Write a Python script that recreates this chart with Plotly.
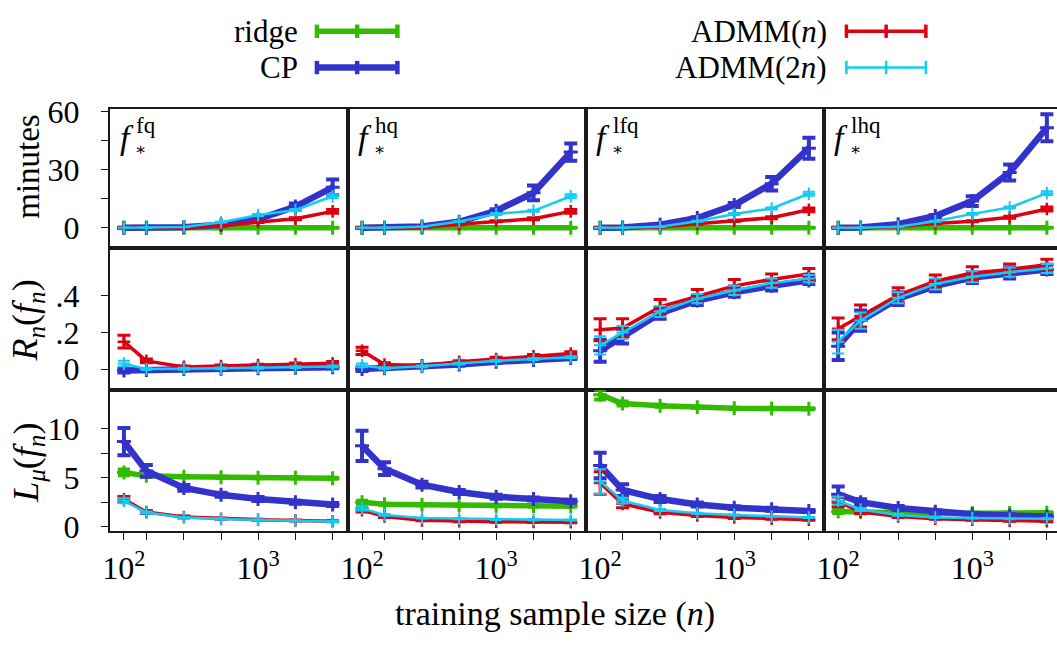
import plotly.graph_objects as go
from plotly.subplots import make_subplots

# ---------------- data ----------------
n_values = [100, 147, 280, 530, 1000, 1900, 3600]
panel_labels = ["fq", "hq", "lfq", "lhq"]

# row 1: minutes (one list per panel)
ridge_min = [[0, 0, 0, 0, 0, 0, 0], [0, 0, 0, 0, 0, 0, 0],
             [0, 0, 0, 0, 0, 0, 0], [0, 0, 0, 0, 0, 0, 0]]
ridge_min_err = [[0, 0, 0, 0, 0, 0, 0], [0, 0, 0, 0, 0, 0, 0],
                 [0, 0, 0, 0, 0, 0, 0], [0, 0, 0, 0, 0, 0, 0]]
cp_min = [[0, 0, 0.2, 1.5, 4.3, 10.9, 20.8],
          [0, 0, 0.6, 3.0, 8.7, 18.0, 39.0],
          [0, 0.1, 1.5, 5.0, 11.7, 22.7, 41.0],
          [0, 0.1, 1.8, 6.0, 13.7, 28.5, 51.6]]
cp_min_err = [[0, 0, 0, 0.3, 0.5, 1.5, 4.0],
              [0, 0, 0, 0.3, 0.8, 3.8, 4.5],
              [0, 0, 0, 0.3, 1.0, 3.5, 5.4],
              [0, 0, 0, 0.5, 2.5, 4.1, 7.0]]
admm_min = [[0, 0, 0.1, 1.0, 3.0, 4.6, 8.4],
            [0, 0, 0.2, 1.7, 3.3, 4.6, 8.4],
            [0, 0, 0.3, 2.0, 3.5, 5.1, 9.2],
            [0, 0, 0.4, 2.2, 3.3, 5.4, 9.6]]
admm_min_err = [[0, 0, 0, 0.2, 0.3, 0.5, 1.0],
                [0, 0, 0, 0.2, 0.3, 0.5, 1.0],
                [0, 0, 0, 0.2, 0.3, 0.5, 1.0],
                [0, 0, 0, 0.2, 0.3, 0.5, 1.0]]
admm2_min = [[0, 0, 0.3, 2.8, 6.5, 9.1, 16.2],
             [0, 0, 0.5, 3.2, 7.0, 8.7, 16.2],
             [0, 0, 0.5, 3.3, 7.0, 9.9, 17.5],
             [0, 0, 0.5, 3.3, 7.1, 10.4, 17.8]]
admm2_min_err = [[0, 0, 0, 0.2, 0.5, 0.5, 1.0],
                 [0, 0, 0, 0.2, 0.5, 0.5, 1.0],
                 [0, 0, 0, 0.2, 0.5, 0.5, 1.0],
                 [0, 0, 0, 0.2, 0.5, 0.5, 1.0]]

# row 2: R_n(f_n)  (ridge not shown)
cp_R = [[-0.008, -0.005, 0.0, 0.002, 0.005, 0.008, 0.01],
        [0.0, 0.005, 0.015, 0.025, 0.04, 0.05, 0.06],
        [0.10, 0.18, 0.305, 0.375, 0.42, 0.455, 0.485],
        [0.125, 0.265, 0.385, 0.455, 0.50, 0.525, 0.545]]
cp_R_err = [[0.01, 0.005, 0.005, 0.005, 0.005, 0.005, 0.005],
            [0.01, 0.005, 0.005, 0.005, 0.005, 0.005, 0.005],
            [0.06, 0.04, 0.03, 0.025, 0.025, 0.025, 0.02],
            [0.075, 0.055, 0.035, 0.03, 0.03, 0.03, 0.025]]
admm_R = [[0.15, 0.045, 0.012, 0.017, 0.022, 0.028, 0.032],
          [0.10, 0.025, 0.02, 0.04, 0.055, 0.07, 0.085],
          [0.215, 0.225, 0.34, 0.40, 0.455, 0.49, 0.52],
          [0.22, 0.29, 0.405, 0.48, 0.525, 0.545, 0.57]]
admm_R_err = [[0.035, 0.01, 0.005, 0.005, 0.005, 0.005, 0.01],
              [0.02, 0.01, 0.005, 0.005, 0.01, 0.01, 0.01],
              [0.06, 0.05, 0.04, 0.035, 0.035, 0.03, 0.03],
              [0.06, 0.06, 0.04, 0.035, 0.035, 0.03, 0.03]]
admm2_R = [[0.03, 0.0, 0.002, 0.004, 0.007, 0.011, 0.014],
           [0.02, 0.005, 0.015, 0.03, 0.045, 0.055, 0.065],
           [0.13, 0.20, 0.315, 0.385, 0.43, 0.47, 0.495],
           [0.15, 0.265, 0.39, 0.465, 0.505, 0.53, 0.55]]
admm2_R_err = [[0.015, 0.005, 0.005, 0.005, 0.005, 0.005, 0.005],
               [0.01, 0.005, 0.005, 0.005, 0.005, 0.005, 0.005],
               [0.05, 0.035, 0.03, 0.025, 0.025, 0.025, 0.02],
               [0.065, 0.045, 0.03, 0.03, 0.03, 0.025, 0.025]]

# row 3: L_mu(f_n)
ridge_L = [[5.55, 5.2, 5.1, 5.05, 5.0, 5.0, 4.95],
           [2.5, 2.3, 2.25, 2.2, 2.15, 2.12, 2.1],
           [13.5, 12.6, 12.37, 12.2, 12.1, 12.08, 12.05],
           [1.55, 1.5, 1.4, 1.35, 1.38, 1.4, 1.42]]
ridge_L_err = [[0.3, 0.1, 0.05, 0.05, 0.05, 0.05, 0.05],
               [0.15, 0.05, 0.05, 0.05, 0.05, 0.05, 0.05],
               [0.5, 0.2, 0.1, 0.05, 0.05, 0.05, 0.05],
               [0.15, 0.05, 0.05, 0.05, 0.05, 0.05, 0.05]]
cp_L = [[8.7, 5.7, 3.97, 3.26, 2.83, 2.51, 2.28],
        [8.27, 5.93, 4.3, 3.55, 3.07, 2.83, 2.61],
        [6.25, 3.75, 2.83, 2.28, 1.95, 1.79, 1.6],
        [3.32, 2.51, 1.92, 1.53, 1.27, 1.14, 1.05]]
cp_L_err = [[1.4, 0.6, 0.3, 0.2, 0.2, 0.15, 0.15],
            [1.55, 0.65, 0.3, 0.2, 0.2, 0.15, 0.15],
            [1.3, 0.6, 0.3, 0.2, 0.15, 0.15, 0.1],
            [0.8, 0.3, 0.2, 0.15, 0.1, 0.1, 0.1]]
admm_L = [[2.8, 1.5, 1.0, 0.82, 0.72, 0.63, 0.56],
          [1.7, 1.05, 0.65, 0.56, 0.52, 0.49, 0.46],
          [4.46, 2.34, 1.47, 1.14, 0.95, 0.82, 0.72],
          [2.55, 1.53, 1.05, 0.82, 0.72, 0.62, 0.56]]
admm_L_err = [[0.3, 0.15, 0.1, 0.05, 0.05, 0.05, 0.05],
              [0.2, 0.1, 0.05, 0.05, 0.05, 0.05, 0.05],
              [1.15, 0.4, 0.15, 0.1, 0.1, 0.05, 0.05],
              [0.5, 0.2, 0.1, 0.05, 0.05, 0.05, 0.05]]
admm2_L = [[2.65, 1.45, 0.95, 0.78, 0.68, 0.6, 0.53],
           [1.86, 1.21, 0.88, 0.82, 0.75, 0.72, 0.68],
           [4.63, 2.67, 1.7, 1.37, 1.21, 1.05, 0.95],
           [2.67, 1.76, 1.21, 0.95, 0.88, 0.82, 0.82]]
admm2_L_err = [[0.25, 0.1, 0.05, 0.05, 0.05, 0.05, 0.05],
               [0.2, 0.1, 0.05, 0.05, 0.05, 0.05, 0.05],
               [1.25, 0.3, 0.1, 0.05, 0.05, 0.05, 0.05],
               [0.4, 0.15, 0.1, 0.05, 0.05, 0.05, 0.05]]

x_tick_text = ["10<sup>2</sup>", "", "", "", "10<sup>3</sup>", "", ""]
y_ticks = [[0, 15, 30, 45, 60], [0, 0.2, 0.4], [0, 2.5, 5, 7.5, 10]]
y_tick_text = [["0", "", "30", "", "60"], ["0", ".2", ".4"], ["0", "", "5", "", "10"]]
y_ranges = [[-10.7, 61.3], [-0.115, 0.66], [-0.42, 13.96]]

# ---------------- style ----------------
W, H = 1057, 648
FONT = "Liberation Serif, Times New Roman, DejaVu Serif, serif"
GREEN, BLUE, RED, CYAN = "#33bb00", "#3333cc", "#dd0011", "#11ccf5"
styles = {
    "ridge": dict(color=GREEN, lw=5.5, mw=3, msize=10, et=4, ew=6),
    "CP": dict(color=BLUE, lw=6.5, mw=3, msize=10, et=4, ew=6.5),
    "ADMM(n)": dict(color=RED, lw=3.5, mw=2.5, msize=9, et=3, ew=6.5),
    "ADMM(2n)": dict(color=CYAN, lw=2.5, mw=2, msize=9, et=2, ew=6),
}
rows_data = [
    [("ridge", ridge_min, ridge_min_err), ("CP", cp_min, cp_min_err),
     ("ADMM(n)", admm_min, admm_min_err), ("ADMM(2n)", admm2_min, admm2_min_err)],
    [("CP", cp_R, cp_R_err), ("ADMM(n)", admm_R, admm_R_err),
     ("ADMM(2n)", admm2_R, admm2_R_err)],
    [("ridge", ridge_L, ridge_L_err), ("CP", cp_L, cp_L_err),
     ("ADMM(n)", admm_L, admm_L_err), ("ADMM(2n)", admm2_L, admm2_L_err)],
]

col_left = [103.3, 343.0, 582.7, 822.3]
col_right = [343.0, 582.7, 822.3, 1057.0]
row_top = [98.3, 244.3, 392.7]
row_bot = [244.3, 392.7, 540.0]
DEC_PX = 135.0
X0 = 1.8933

fig = make_subplots(rows=3, cols=4, horizontal_spacing=0, vertical_spacing=0)

for r, row in enumerate(rows_data):
    for c in range(4):
        for name, vals, errs in row:
            s = styles[name]
            fig.add_trace(go.Scatter(
                x=n_values, y=vals[c], mode="lines+markers", showlegend=False,
                line=dict(color=s["color"], width=s["lw"]),
                marker=dict(symbol="cross-thin", size=s["msize"],
                            line=dict(color=s["color"], width=s["mw"])),
                error_y=dict(type="data", array=errs[c], visible=True,
                             color=s["color"], thickness=s["et"], width=s["ew"]),
            ), row=r + 1, col=c + 1)

TICKFONT = dict(family=FONT, size=32, color="black")
for r in range(3):
    for c in range(4):
        idx = r * 4 + c + 1
        xa = "xaxis" if idx == 1 else f"xaxis{idx}"
        ya = "yaxis" if idx == 1 else f"yaxis{idx}"
        width_px = col_right[c] - col_left[c]
        bottom = (r == 2)
        fig.layout[xa].update(
            type="log", domain=[col_left[c] / W, col_right[c] / W],
            range=[X0, X0 + width_px / DEC_PX],
            showline=True, mirror=True, linecolor="#1a1a1a", linewidth=1.6,
            showgrid=False, zeroline=False,
            tickvals=n_values, ticktext=x_tick_text,
            ticks="outside" if bottom else "", ticklen=7, tickwidth=1.3,
            tickcolor="#1a1a1a",
            showticklabels=bottom, ticklabelstandoff=1,
            tickfont=TICKFONT,
        )
        left = (c == 0)
        fig.layout[ya].update(
            domain=[1 - row_bot[r] / H, 1 - row_top[r] / H],
            range=y_ranges[r],
            showline=True, mirror=(c != 3), linecolor="#1a1a1a", linewidth=1.6,
            showgrid=False, zeroline=False,
            tickvals=y_ticks[r], ticktext=y_tick_text[r],
            ticks="outside" if left else "", ticklen=7, tickwidth=1.3,
            tickcolor="#1a1a1a",
            showticklabels=left, ticklabelstandoff=15,
            tickfont=TICKFONT,
        )

annotations = []
# panel labels f_*^{...}
for c, lab in enumerate(panel_labels):
    xl = col_left[c]
    annotations.append(dict(text="<i>f</i>", x=(xl + 17) / W, y=1 - 128 / H,
                            xref="paper", yref="paper", showarrow=False,
                            xanchor="center", yanchor="middle",
                            font=dict(family=FONT, size=34, color="black")))
    annotations.append(dict(text=lab, x=(xl + 25) / W, y=1 - 116 / H,
                            xref="paper", yref="paper", showarrow=False,
                            xanchor="left", yanchor="middle",
                            font=dict(family=FONT, size=23, color="black")))
    annotations.append(dict(text="∗", x=(xl + 24) / W, y=1 - 140 / H,
                            xref="paper", yref="paper", showarrow=False,
                            xanchor="left", yanchor="middle",
                            font=dict(family="DejaVu Serif", size=17, color="black")))

# axis titles
ytitles = [("minutes", 158, 33),
           ("<i>R</i><sub><i>n</i></sub>(<i>f</i><sub><i>n</i></sub>)", 320, 36),
           ("<i>L</i><sub><i>μ</i></sub>(<i>f</i><sub><i>n</i></sub>)", 469, 36)]
for txt, yc, fs in ytitles:
    annotations.append(dict(text=txt, x=21 / W, y=1 - yc / H, xref="paper", yref="paper",
                            showarrow=False, textangle=-90, xanchor="center",
                            yanchor="middle",
                            font=dict(family=FONT, size=fs, color="black")))
annotations.append(dict(text="training sample size (<i>n</i>)", x=552 / W, y=1 - 627 / H,
                        xref="paper", yref="paper", showarrow=False,
                        xanchor="center", yanchor="middle",
                        font=dict(family=FONT, size=34, color="black")))

# legend (manual)
legend_items = [("ridge", "ridge", 295, 312, 393, 17),
                ("CP", "CP", 295, 312, 393, 55),
                ("ADMM(n)", "ADMM(<i>n</i>)", 827, 845, 925, 17),
                ("ADMM(2n)", "ADMM(2<i>n</i>)", 827, 845, 925, 55)]
shapes = []
for key, label, xt, x0, x1, yc in legend_items:
    s = styles[key]
    annotations.append(dict(text=label, x=xt / W, y=1 - yc / H, xref="paper", yref="paper",
                            showarrow=False, xanchor="right", yanchor="middle",
                            font=dict(family=FONT, size=31, color="black")))
    shapes.append(dict(type="line", xref="paper", yref="paper",
                       x0=x0 / W, x1=x1 / W, y0=1 - yc / H, y1=1 - yc / H,
                       line=dict(color=s["color"], width=s["lw"])))
    for xx in (x0, (x0 + x1) / 2, x1):
        shapes.append(dict(type="line", xref="paper", yref="paper",
                           x0=xx / W, x1=xx / W, y0=1 - (yc - 7) / H, y1=1 - (yc + 7) / H,
                           line=dict(color=s["color"], width=s["et"] + 0.5)))

fig.update_layout(width=W, height=H, margin=dict(l=0, r=0, t=0, b=0),
                  paper_bgcolor="white", plot_bgcolor="white",
                  annotations=annotations, shapes=shapes,
                  font=dict(family=FONT, color="black"))

fig.write_html("out.html")
